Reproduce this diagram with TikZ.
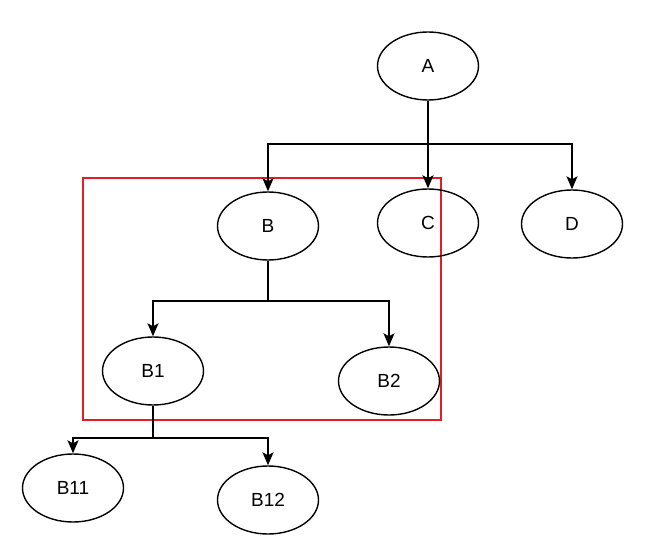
\documentclass[tikz,border=0pt]{standalone}
\usepackage{fontspec}
\setmainfont{Liberation Sans}
\usetikzlibrary{shapes.geometric,arrows.meta}
\definecolor{frameRed}{RGB}{228,28,38}
\begin{document}
\begin{tikzpicture}[x=1pt,y=-1pt,
  nd/.style={ellipse,draw,line width=1.4pt,minimum width=101pt,minimum height=68pt,inner sep=0pt,font=\fontsize{19}{21}\selectfont},
  ln/.style={line width=1.6pt},
  arr/.style={ln,-{Stealth[length=13pt,width=11pt,inset=3pt]}},
  frame/.style={draw=frameRed,line width=2.8pt,inner sep=0pt,outer sep=0pt}]
\useasboundingbox (0,0) rectangle (662,559);
\node[frame,minimum width=358pt,minimum height=242pt] (box) at (262,299) {};
\node[nd] (A) at (428,66) {A};
\node[nd] (B) at (268,226) {B};
\node[nd] (C) at (428,223) {C};
\node[nd] (D) at (572,224) {D};
\node[nd] (B1) at (153,371) {B1};
\node[nd] (B2) at (389,381) {B2};
\node[nd] (B11) at (73,488) {B11};
\node[nd] (B12) at (268,500) {B12};
\coordinate (jA) at (428,144);
\coordinate (jB) at (268,301);
\coordinate (jB1) at (153,438);
\draw[arr] (A.south) -- (jA) -| (B.north);
\draw[arr] (jA) -- (C.north);
\draw[arr] (jA) -| (D.north);
\draw[arr] (B.south) -- (jB) -| (B1.north);
\draw[arr] (jB) -| (B2.north);
\draw[arr] (B1.south) -- (jB1) -| (B11.north);
\draw[arr] (jB1) -| (B12.north);
\end{tikzpicture}
\end{document}
